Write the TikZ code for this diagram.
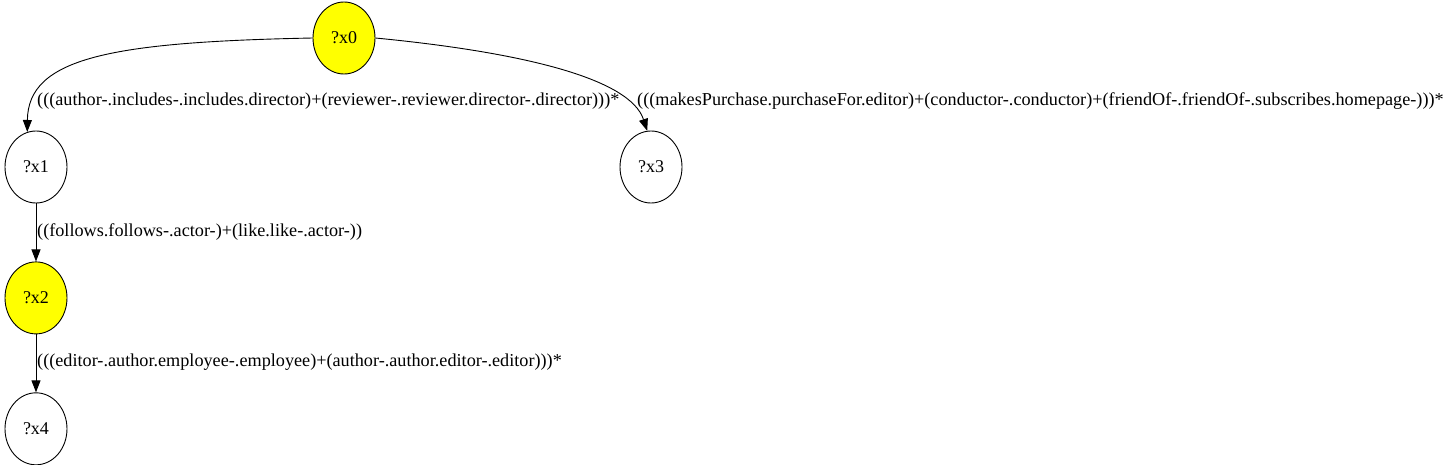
\documentclass[tikz,border=0pt]{standalone}
\usepackage{fontspec}
\setmainfont{Liberation Serif}
\usetikzlibrary{arrows.meta, positioning, shapes.geometric}
\definecolor{selyellow}{RGB}{255,255,0}
\tikzset{
    varnode/.style={ellipse, draw=black, line width=0.9pt, minimum width=62pt, minimum height=72pt, inner sep=0pt, font=\fontsize{18}{20}\selectfont},
    selnode/.style={varnode, fill=selyellow},
    edgelbl/.style={font=\fontsize{18.2}{20}\selectfont, anchor=west, inner sep=1pt},
    arrow/.style={-{Triangle[length=12pt, width=9pt]}, black, line width=0.9pt},
}

\begin{document}
\begin{tikzpicture}[x=1pt, y=-1pt, node distance=58pt]
\useasboundingbox (0,0) rectangle (1449,464);

% Variables
\node[selnode] (x0) at (344,38) {?x0};
\node[varnode] (x1) at (36,167) {?x1};
\node[varnode] (x3) at (651,167) {?x3};
\node[selnode, below=of x1] (x2) {?x2};
\node[varnode, below=of x2] (x4) {?x4};

% Path labels
\node[edgelbl] (l01) at (36,101) {(((author-.includes-.includes.director)+(reviewer-.reviewer.director-.director)))*};
\node[edgelbl] (l03) at (636,101) {(((makesPurchase.purchaseFor.editor)+(conductor-.conductor)+(friendOf-.friendOf-.subscribes.homepage-)))*};
\node[edgelbl] (l12) at (36,232) {((follows.follows-.actor-)+(like.like-.actor-))};
\node[edgelbl] (l24) at (36,362) {(((editor-.author.employee-.employee)+(author-.author.editor-.editor)))*};

% Edges
\draw[arrow] (x0.west) .. controls (110,42) and (28,58) .. (x1.104);
\draw[arrow] (x0.east) .. controls (520,52) and (630,78) .. (x3.96);
\draw[arrow] (x1) -- (x2);
\draw[arrow] (x2) -- (x4);

\end{tikzpicture}
\end{document}
